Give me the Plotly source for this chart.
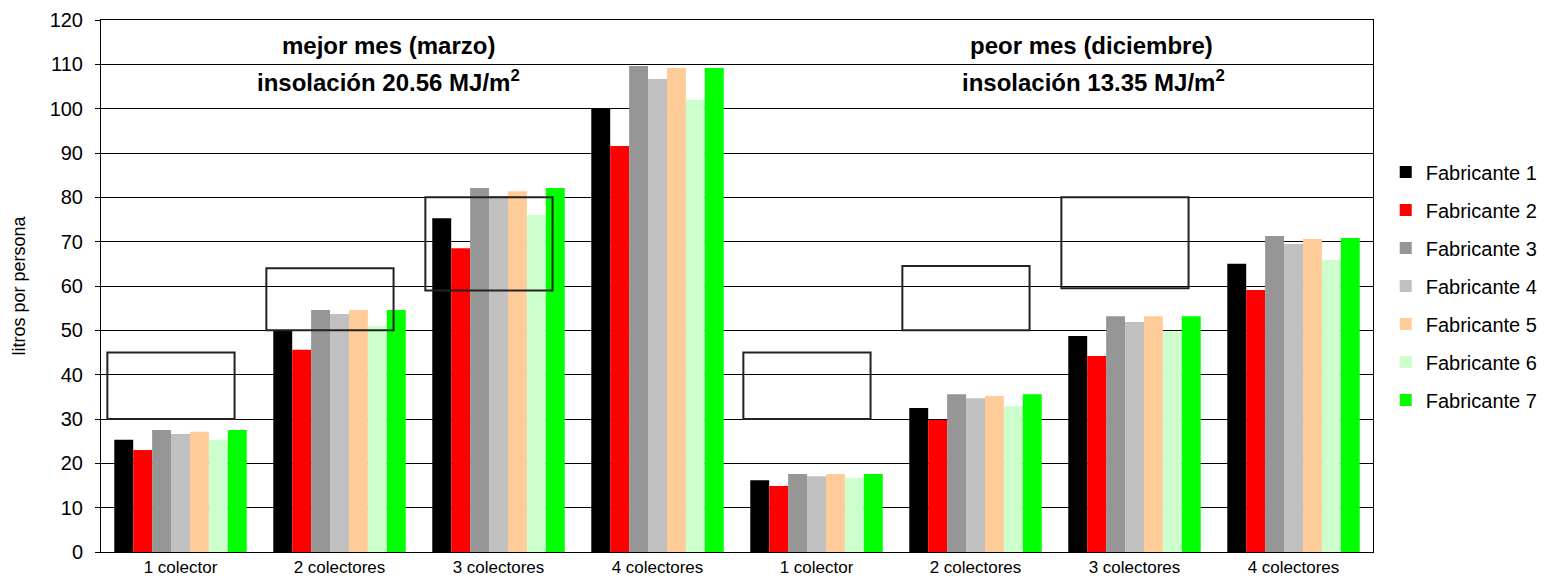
import plotly.graph_objects as go

# Daily hot water per person by number of collectors, best vs worst month
categories = ["1 colector", "2 colectores", "3 colectores", "4 colectores",
              "1 colector", "2 colectores", "3 colectores", "4 colectores"]

fabricante_1 = [25.3, 50.1, 75.3, 100.1, 16.2, 32.5, 48.7, 65.0]
fabricante_2 = [23.0, 45.6, 68.5, 91.6, 14.9, 29.8, 44.2, 59.1]
fabricante_3 = [27.5, 54.6, 82.1, 109.6, 17.6, 35.6, 53.2, 71.3]
fabricante_4 = [26.6, 53.7, 80.3, 106.7, 17.1, 34.7, 51.9, 69.5]
fabricante_5 = [27.1, 54.6, 81.4, 109.2, 17.6, 35.2, 53.2, 70.6]
fabricante_6 = [25.3, 51.0, 76.0, 102.0, 16.7, 32.9, 49.8, 65.9]
fabricante_7 = [27.5, 54.6, 82.1, 109.2, 17.6, 35.6, 53.2, 70.8]

series_names = ["Fabricante 1", "Fabricante 2", "Fabricante 3", "Fabricante 4",
                "Fabricante 5", "Fabricante 6", "Fabricante 7"]
series_values = [fabricante_1, fabricante_2, fabricante_3, fabricante_4,
                 fabricante_5, fabricante_6, fabricante_7]
series_colors = ["#000000", "#FF0000", "#969696", "#C0C0C0",
                 "#FFCC99", "#CCFFCC", "#00FF00"]

# Reference demand ranges (litros) outlined for each configuration
demand_index = [0, 1, 2, 4, 5, 6]
demand_low = [30, 50, 59, 30, 50, 59.5]
demand_high = [45, 64, 80, 45, 64.5, 80]

x_pos = list(range(len(categories)))

fig = go.Figure()
for name, vals, color in zip(series_names, series_values, series_colors):
    fig.add_trace(go.Bar(
        x=x_pos, y=vals, name=name, marker_color=color,
        marker_line_width=0, legendgroup=name,
    ))

for idx, lo, hi in zip(demand_index, demand_low, demand_high):
    fig.add_shape(type="rect", xref="x", yref="y",
                  x0=idx - 0.46, x1=idx + 0.34, y0=lo, y1=hi,
                  line=dict(color="#222222", width=2), fillcolor="rgba(0,0,0,0)",
                  layer="above")

title_font = dict(family="Liberation Sans, Arial, sans-serif", size=24, color="black")
fig.add_annotation(x=1.31, y=114.3, xref="x", yref="y", text="<b>mejor mes (marzo)</b>",
                   showarrow=False, font=title_font)
fig.add_annotation(x=1.31, y=106.3, xref="x", yref="y",
                   text="<b>insolación 20.56 MJ/m<sup>2</sup></b>",
                   showarrow=False, font=title_font)
fig.add_annotation(x=5.73, y=114.3, xref="x", yref="y", text="<b>peor mes (diciembre)</b>",
                   showarrow=False, font=title_font)
fig.add_annotation(x=5.74, y=106.3, xref="x", yref="y",
                   text="<b>insolación 13.35 MJ/m<sup>2</sup></b>",
                   showarrow=False, font=title_font)

fig.update_layout(
    width=1555, height=580,
    margin=dict(l=101, r=178, t=20, b=28),
    paper_bgcolor="white", plot_bgcolor="white",
    barmode="group", bargap=0.167, bargroupgap=0,
    font=dict(family="Liberation Sans, Arial, sans-serif", color="black"),
    showlegend=True,
    legend=dict(x=1.010, y=0.5, xanchor="left", yanchor="middle",
                font=dict(size=20, color="black"), tracegroupgap=9,
                itemwidth=30, bgcolor="rgba(0,0,0,0)"),
    xaxis=dict(
        tickmode="array", tickvals=x_pos, ticktext=categories,
        range=[-0.5, len(categories) - 0.5], automargin=False,
        showline=True, linecolor="black", linewidth=1, mirror=True,
        ticks="", tickfont=dict(size=17, color="black"), showgrid=False,
    ),
    yaxis=dict(
        range=[0, 120], dtick=10, showgrid=True, gridcolor="black", gridwidth=1,
        showline=True, linecolor="black", linewidth=1, mirror=True,
        ticks="outside", ticklen=5, tickcolor="black", automargin=False,
        ticklabelstandoff=8,
        tickfont=dict(size=20, color="black"),
        title=dict(text="litros por persona", font=dict(size=18, color="black"),
                   standoff=19),
        zeroline=False,
    ),
)

fig.write_html("out.html")
